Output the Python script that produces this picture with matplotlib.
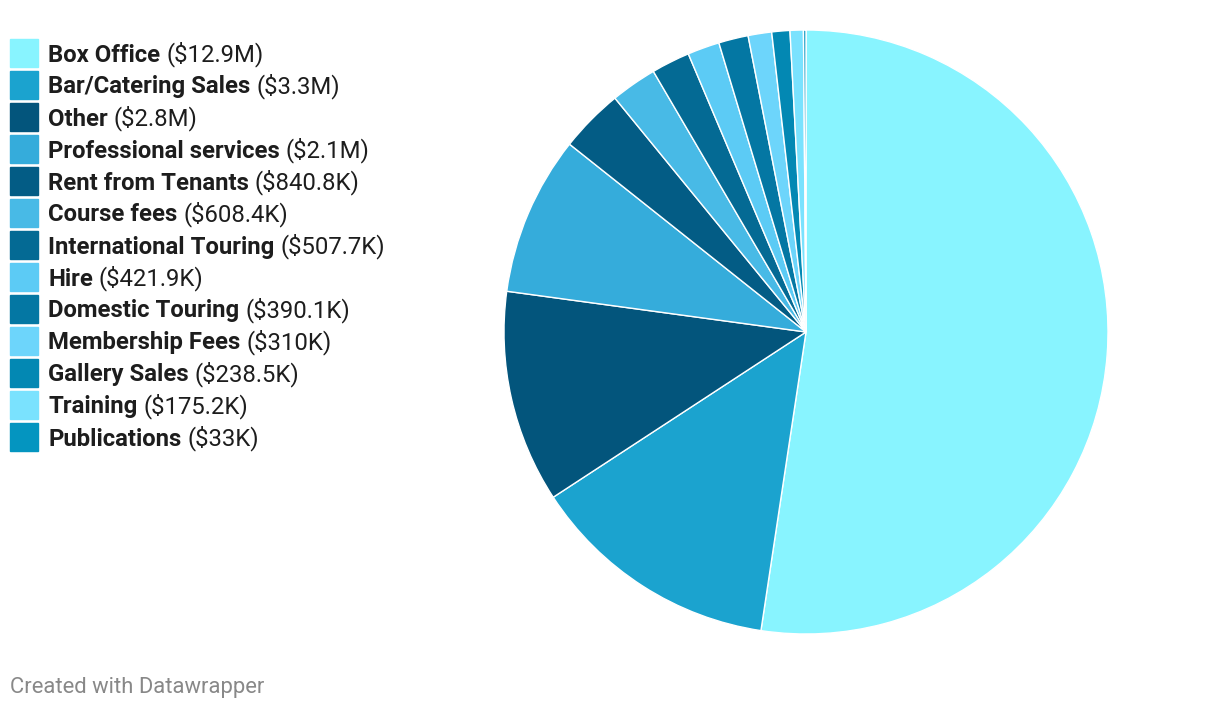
import matplotlib
matplotlib.use("Agg")
import matplotlib.pyplot as plt

names = ["Box Office", "Bar/Catering Sales", "Other", "Professional services",
         "Rent from Tenants", "Course fees", "International Touring", "Hire",
         "Domestic Touring", "Membership Fees", "Gallery Sales", "Training", "Publications"]
values = [12.9e6, 3.3e6, 2.8e6, 2.1e6, 840.8e3, 608.4e3, 507.7e3, 421.9e3,
          390.1e3, 310e3, 238.5e3, 175.2e3, 33e3]
labels = ["$12.9M", "$3.3M", "$2.8M", "$2.1M", "$840.8K", "$608.4K", "$507.7K",
          "$421.9K", "$390.1K", "$310K", "$238.5K", "$175.2K", "$33K"]
colors = ["#88f4ff", "#1ba3cf", "#03557c", "#35acdb", "#035c85", "#48bae6", "#046a94",
          "#5ccbf5", "#0477a3", "#6dd5fb", "#0388b3", "#7ae2fe", "#0495c0"]

W, H = 1220, 710
fig = plt.figure(figsize=(W / 100, H / 100), dpi=100)
plt.rcParams['font.family'] = ['Roboto', 'DejaVu Sans']

cx, cy, r = 806, 332, 302
ax = fig.add_axes([(cx - r) / W, 1 - (cy + r) / H, 2 * r / W, 2 * r / H])
ax.pie(values, colors=colors, startangle=90, counterclock=False,
       wedgeprops=dict(edgecolor="white", linewidth=1))
ax.set_xlim(-1, 1)
ax.set_ylim(-1, 1)
ax.set_aspect("equal")
ax.axis("off")

fig.canvas.draw()
renderer = fig.canvas.get_renderer()
y0, dy = 53, 32
fs = 17.2
for i, (n, lab, c) in enumerate(zip(names, labels, colors)):
    y = y0 + i * dy
    fig.patches.append(plt.Rectangle((10 / W, 1 - (y + 14) / H), 28 / W, 28 / H,
                                     transform=fig.transFigure, color=c, figure=fig))
    base = y + 8.5
    t = fig.text(48 / W, 1 - base / H, n, fontsize=fs, fontweight="bold",
                 color="#1d1d1d", va="baseline", ha="left")
    bb = t.get_window_extent(renderer=renderer)
    fig.text((bb.x1 + 6) / W, 1 - base / H, "(" + lab + ")", fontsize=fs,
             color="#1d1d1d", va="baseline", ha="left")

fig.text(10 / W, 1 - 687 / H, "Created with Datawrapper", fontsize=15.8,
         color="#888888", va="center", ha="left")

fig.savefig("out.png", dpi=100, facecolor="white")
